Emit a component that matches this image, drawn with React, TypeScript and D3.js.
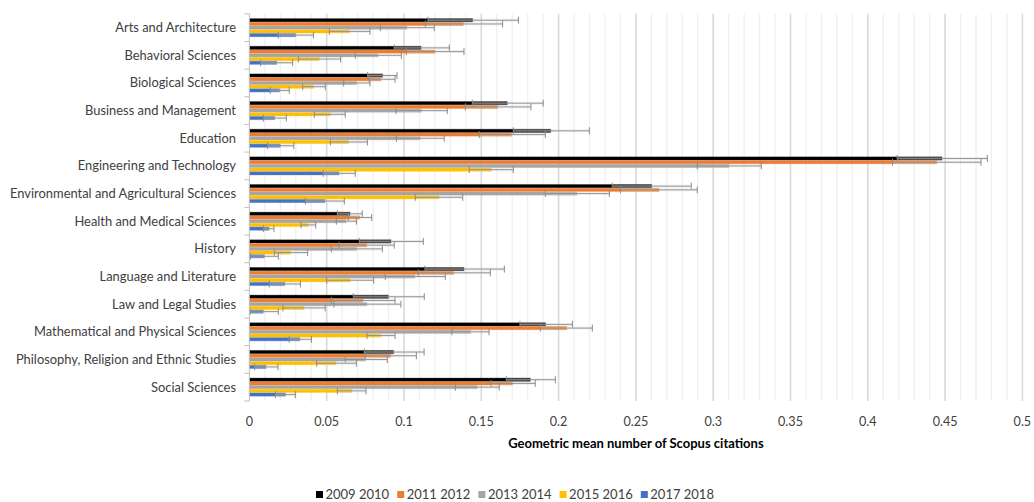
import React from "react";
import * as d3 from "d3";

const categories = [
  "Arts and Architecture",
  "Behavioral Sciences",
  "Biological Sciences",
  "Business and Management",
  "Education",
  "Engineering and Technology",
  "Environmental and Agricultural Sciences",
  "Health and Medical Sciences",
  "History",
  "Language and Literature",
  "Law and Legal Studies",
  "Mathematical and Physical Sciences",
  "Philosophy, Religion and Ethnic Studies",
  "Social Sciences",
];

const seriesNames = ["2009 2010", "2011 2012", "2013 2014", "2015 2016", "2017 2018"];
const seriesColors = ["#000000", "#ED7D31", "#A5A5A5", "#FFC000", "#4472C4"];

const v2009 = [0.1444, 0.111, 0.0862, 0.1668, 0.1949, 0.448, 0.2602, 0.0651, 0.0916, 0.1388, 0.0899, 0.1916, 0.0933, 0.1817];
const lo2009 = [0.1155, 0.0937, 0.0765, 0.1442, 0.1707, 0.419, 0.2347, 0.0569, 0.0711, 0.1136, 0.0672, 0.175, 0.0743, 0.1662];
const hi2009 = [0.174, 0.1293, 0.0955, 0.19, 0.2199, 0.4773, 0.2858, 0.073, 0.1125, 0.1649, 0.1131, 0.2089, 0.113, 0.1979];

const v2011 = [0.1384, 0.12, 0.0851, 0.1606, 0.1696, 0.4446, 0.265, 0.0715, 0.0759, 0.1321, 0.0735, 0.2052, 0.0914, 0.1703];
const lo2011 = [0.1138, 0.1015, 0.0774, 0.1397, 0.1487, 0.416, 0.24, 0.064, 0.058, 0.1093, 0.053, 0.1882, 0.075, 0.1563];
const hi2011 = [0.1638, 0.1388, 0.0942, 0.1821, 0.1914, 0.4732, 0.2897, 0.0791, 0.0937, 0.1558, 0.0942, 0.2218, 0.108, 0.1849];

const v2013 = [0.1019, 0.0832, 0.0694, 0.1112, 0.1104, 0.3102, 0.2119, 0.0625, 0.0694, 0.1071, 0.076, 0.1431, 0.0752, 0.1474];
const lo2013 = [0.0847, 0.0685, 0.061, 0.0948, 0.0951, 0.2897, 0.1914, 0.0562, 0.053, 0.0879, 0.0547, 0.131, 0.062, 0.1332];
const hi2013 = [0.1196, 0.0983, 0.078, 0.128, 0.126, 0.3311, 0.2328, 0.0692, 0.086, 0.1267, 0.098, 0.155, 0.0892, 0.1616];

const v2015 = [0.0649, 0.0452, 0.0416, 0.0524, 0.0642, 0.1565, 0.1226, 0.0381, 0.0267, 0.0651, 0.0353, 0.0851, 0.056, 0.0662];
const lo2015 = [0.0517, 0.0317, 0.0345, 0.042, 0.0524, 0.1422, 0.1073, 0.0334, 0.0161, 0.05, 0.0217, 0.0761, 0.0435, 0.0569];
const hi2015 = [0.078, 0.059, 0.0491, 0.062, 0.0763, 0.1707, 0.138, 0.0429, 0.0377, 0.0804, 0.049, 0.0942, 0.0692, 0.0754];

const v2017 = [0.03, 0.0177, 0.0196, 0.0164, 0.02, 0.058, 0.0489, 0.0127, 0.0097, 0.023, 0.009, 0.0327, 0.0107, 0.0233];
const lo2017 = [0.0187, 0.0073, 0.0135, 0.009, 0.0118, 0.0478, 0.0362, 0.009, 0.0006, 0.0129, 0.0004, 0.0258, 0.0034, 0.0168];
const hi2017 = [0.0414, 0.028, 0.0258, 0.0239, 0.0287, 0.0685, 0.0614, 0.0159, 0.0187, 0.033, 0.0187, 0.0401, 0.0185, 0.0297];

const xTicks = [0, 0.05, 0.1, 0.15, 0.2, 0.25, 0.3, 0.35, 0.4, 0.45, 0.5];
const xTickLabels = ["0", "0.05", "0.1", "0.15", "0.2", "0.25", "0.3", "0.35", "0.4", "0.45", "0.5"];
const xTitle = "Geometric mean number of Scopus citations";

const seriesValues = [v2009, v2011, v2013, v2015, v2017];
const seriesLo = [lo2009, lo2011, lo2013, lo2015, lo2017];
const seriesHi = [hi2009, hi2011, hi2013, hi2015, hi2017];

const FONT = "Lato, 'Liberation Sans', sans-serif";

export default function App() {
  const W = 1034;
  const H = 502;
  const x = d3.scaleLinear().domain([0, 0.5]).range([249.4, 1022.4]);
  const top = 13.85;
  const bottom = 400.95;
  const y = d3
    .scaleBand<string>()
    .domain(categories)
    .range([top, bottom])
    .paddingInner(0.327)
    .paddingOuter(0.1635);
  const inner = d3.scaleBand<string>().domain(seriesNames).range([0, y.bandwidth()]);
  const step = y.step();
  const minorTicks = d3.range(0, 51).map((i) => i / 100);
  const bh = inner.bandwidth();
  const capH = 7;

  return (
    <svg
      width={W}
      height={H}
      style={{ position: "absolute", left: 0, top: 0, background: "#fff" }}
      fontFamily={FONT}
    >
      {minorTicks.map((t, i) =>
        i % 5 === 0 ? null : (
          <line key={"mi" + i} x1={x(t)} x2={x(t)} y1={top} y2={bottom} stroke="#efefef" strokeWidth={1.3} />
        )
      )}
      {xTicks.map((t, i) =>
        i === 0 ? null : (
          <line key={"ma" + i} x1={x(t)} x2={x(t)} y1={top} y2={bottom} stroke="#d9d9d9" strokeWidth={1.6} />
        )
      )}
      {seriesNames.map((s, si) =>
        categories.map((c, ci) => {
          const v = seriesValues[si][ci];
          const y0 = (y(c) as number) + (inner(s) as number);
          return (
            <rect
              key={s + c}
              x={x(0)}
              y={y0 + 0.25}
              width={x(v) - x(0)}
              height={bh - 0.5}
              fill={seriesColors[si]}
              stroke={seriesColors[si]}
              strokeOpacity={0.3}
              strokeWidth={1}
            />
          );
        })
      )}
      {seriesNames.map((s, si) =>
        categories.map((c, ci) => {
          const lo = seriesLo[si][ci];
          const hi = seriesHi[si][ci];
          const cy = (y(c) as number) + (inner(s) as number) + bh / 2;
          return (
            <g key={"e" + s + c}>
              <line x1={x(lo)} x2={x(hi)} y1={cy} y2={cy} stroke="#d6d6d6" strokeOpacity={0.35} strokeWidth={3} />
              <line x1={x(lo)} x2={x(hi)} y1={cy} y2={cy} stroke="#8a8a8a" strokeWidth={0.9} />
              <line x1={x(lo)} x2={x(lo)} y1={cy - capH / 2} y2={cy + capH / 2} stroke="#8a8a8a" strokeWidth={1} />
              <line x1={x(hi)} x2={x(hi)} y1={cy - capH / 2} y2={cy + capH / 2} stroke="#8a8a8a" strokeWidth={1} />
            </g>
          );
        })
      )}
      <line x1={x(0)} x2={x(0)} y1={top} y2={bottom} stroke="#bfbfbf" strokeWidth={1} />
      {d3.range(0, categories.length + 1).map((k) => (
        <line key={"yt" + k} x1={x(0) - 5} x2={x(0)} y1={top + k * step} y2={top + k * step} stroke="#bfbfbf" strokeWidth={1} />
      ))}
      {categories.map((c) => (
        <text
          key={"cl" + c}
          x={236}
          y={(y(c) as number) + y.bandwidth() / 2}
          dy="0.35em"
          textAnchor="end"
          fontSize={12.9}
          fill="#404040"
        >
          {c}
        </text>
      ))}
      {xTicks.map((t, i) => (
        <text key={"xl" + i} x={x(t)} y={425.5} textAnchor="middle" fontSize={12.6} fill="#404040">
          {xTickLabels[i]}
        </text>
      ))}
      <text x={(x(0) + x(0.5)) / 2} y={448} textAnchor="middle" fontSize={13} fontWeight="bold" fill="#000">
        {xTitle}
      </text>
      {seriesNames.map((s, si) => {
        const lx = 316 + si * 81.2;
        return (
          <g key={"lg" + s}>
            <rect x={lx} y={491} width={7} height={7} fill={seriesColors[si]} />
            <text x={lx + 9.5} y={498.5} fontSize={13} fill="#404040">
              {s}
            </text>
          </g>
        );
      })}
    </svg>
  );
}
